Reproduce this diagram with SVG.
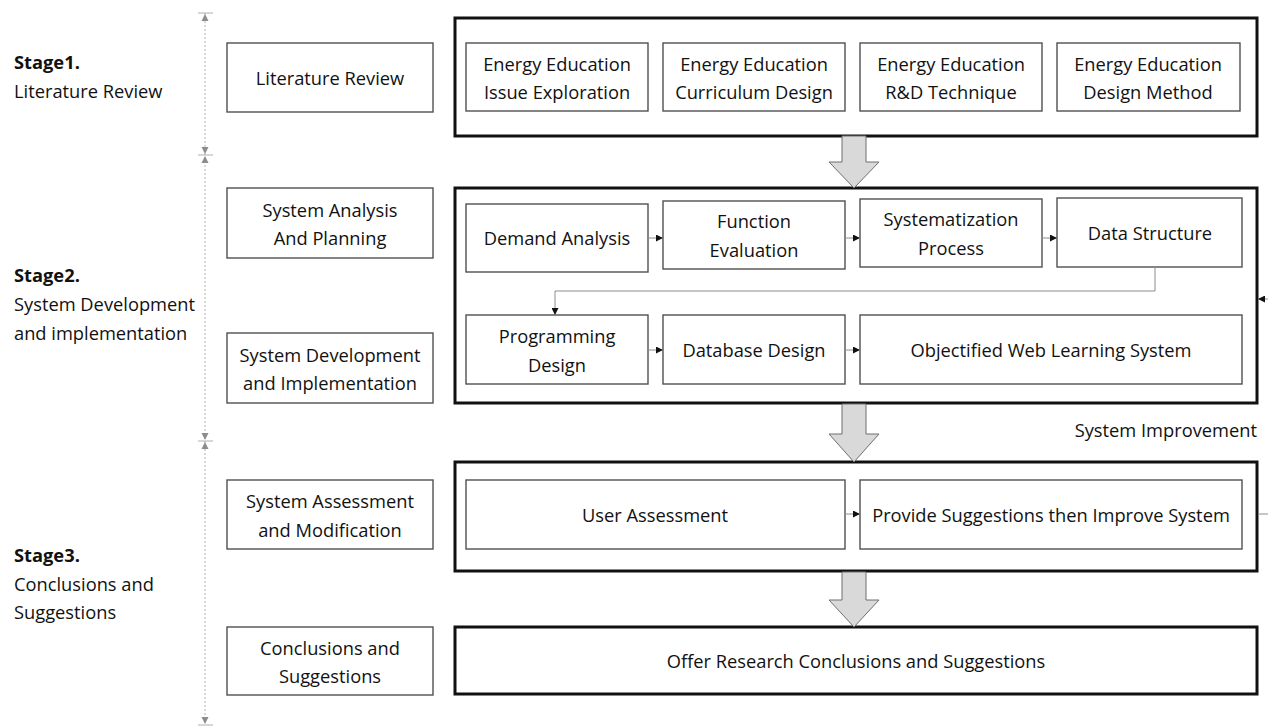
<svg xmlns="http://www.w3.org/2000/svg" width="1268" height="726" viewBox="0 0 1268 726">
<style>
text{font-family:"Open Sans","Noto Sans",sans-serif;font-size:18.3px;fill:#111}
.c{text-anchor:middle}
.b{font-weight:bold}
.box{fill:#fff;stroke:#505050;stroke-width:1.4}
.outer{fill:none;stroke:#111;stroke-width:3}
.ln{fill:none;stroke:#8c8c8c;stroke-width:1}
.blk{fill:#d9d9d9;stroke:#6f6f6f;stroke-width:1}
.dot{stroke:#b0b0b0;stroke-width:1;stroke-dasharray:2,2;fill:none}
.tk{stroke:#b0b0b0;stroke-width:1}
.tri{fill:#8c8c8c}
</style>
<defs>
<marker id="ah" markerWidth="7" markerHeight="7" refX="7" refY="3.5" orient="auto" markerUnits="userSpaceOnUse">
<path d="M0,0 L7,3.5 L0,7 Z" fill="#111"/>
</marker>
</defs>
<rect width="1268" height="726" fill="#fff"/>

<g id="timeline">
<line class="dot" x1="205" y1="13" x2="205" y2="724"/>
<line class="tk" x1="198" y1="13" x2="213" y2="13"/>
<path class="tri" d="M205,14 L201.5,21 L208.5,21 Z"/>
<line class="tk" x1="198" y1="155" x2="213" y2="155"/>
<path class="tri" d="M205,154 L201.5,147 L208.5,147 Z"/>
<path class="tri" d="M205,156 L201.5,163 L208.5,163 Z"/>
<line class="tk" x1="198" y1="441" x2="213" y2="441"/>
<path class="tri" d="M205,440 L201.5,433 L208.5,433 Z"/>
<path class="tri" d="M205,442 L201.5,449 L208.5,449 Z"/>
<line class="tk" x1="198" y1="725" x2="213" y2="725"/>
<path class="tri" d="M205,724 L201.5,717 L208.5,717 Z"/>
</g>

<g id="stage1-label"><text x="14" y="69" class="b">Stage1.</text><text x="14" y="98">Literature Review</text></g>
<g id="stage2-label"><text x="14" y="282" class="b">Stage2.</text><text x="14" y="311">System Development</text><text x="14" y="340">and implementation</text></g>
<g id="stage3-label"><text x="14" y="562" class="b">Stage3.</text><text x="14" y="591">Conclusions and</text><text x="14" y="619">Suggestions</text></g>

<g id="left-literature"><rect class="box" x="227" y="43" width="206" height="69"/><text class="c" x="330" y="85">Literature Review</text></g>
<g id="left-analysis"><rect class="box" x="227" y="188" width="206" height="70"/><text class="c" x="330" y="217">System Analysis</text><text class="c" x="330" y="245">And Planning</text></g>
<g id="left-development"><rect class="box" x="227" y="333" width="206" height="70"/><text class="c" x="330" y="362">System Development</text><text class="c" x="330" y="390">and Implementation</text></g>
<g id="left-assessment"><rect class="box" x="227" y="480" width="206" height="69"/><text class="c" x="330" y="508">System Assessment</text><text class="c" x="330" y="537">and Modification</text></g>
<g id="left-conclusions"><rect class="box" x="227" y="627" width="206" height="68"/><text class="c" x="330" y="655">Conclusions and</text><text class="c" x="330" y="683">Suggestions</text></g>

<g id="stage1-box"><rect class="outer" x="455" y="18" width="802" height="118"/></g>
<g id="issue"><rect class="box" x="466" y="43" width="182" height="68"/><text class="c" x="557" y="71">Energy Education</text><text class="c" x="557" y="99">Issue Exploration</text></g>
<g id="curriculum"><rect class="box" x="663" y="43" width="182" height="68"/><text class="c" x="754" y="71">Energy Education</text><text class="c" x="754" y="99">Curriculum Design</text></g>
<g id="rd"><rect class="box" x="860" y="43" width="182" height="68"/><text class="c" x="951" y="71">Energy Education</text><text class="c" x="951" y="99">R&amp;D Technique</text></g>
<g id="method"><rect class="box" x="1057" y="43" width="183" height="68"/><text class="c" x="1148" y="71">Energy Education</text><text class="c" x="1148" y="99">Design Method</text></g>

<g id="stage2-box"><rect class="outer" x="455" y="188" width="802" height="215"/></g>
<g id="demand"><rect class="box" x="466" y="204" width="182" height="68"/><text class="c" x="557" y="245">Demand Analysis</text></g>
<g id="function"><rect class="box" x="663" y="201" width="182" height="68"/><text class="c" x="754" y="228">Function</text><text class="c" x="754" y="257">Evaluation</text></g>
<g id="systematization"><rect class="box" x="860" y="199" width="182" height="68"/><text class="c" x="951" y="226">Systematization</text><text class="c" x="951" y="255">Process</text></g>
<g id="data"><rect class="box" x="1057" y="198" width="185" height="69"/><text class="c" x="1150" y="240">Data Structure</text></g>
<g id="programming"><rect class="box" x="466" y="315" width="182" height="69"/><text class="c" x="557" y="343">Programming</text><text class="c" x="557" y="372">Design</text></g>
<g id="database"><rect class="box" x="663" y="315" width="182" height="69"/><text class="c" x="754" y="357">Database Design</text></g>
<g id="objectified"><rect class="box" x="860" y="315" width="382" height="69"/><text class="c" x="1051" y="357">Objectified Web Learning System</text></g>

<g id="stage3-box"><rect class="outer" x="455" y="462" width="802" height="109"/></g>
<g id="user"><rect class="box" x="466" y="480" width="379" height="69"/><text class="c" x="655" y="522">User Assessment</text></g>
<g id="provide"><rect class="box" x="860" y="480" width="382" height="69"/><text class="c" x="1051" y="522">Provide Suggestions then Improve System</text></g>

<g id="stage4-box"><rect class="outer" x="455" y="627" width="802" height="67"/><text class="c" x="856" y="668">Offer Research Conclusions and Suggestions</text></g>

<g id="improvement-label"><text x="1257" y="437" style="text-anchor:end">System Improvement</text></g>

<g id="connectors">
<path class="blk" d="M842,136 L866,136 L866,162 L879,162 L854,188 L829,162 L842,162 Z"/>
<path class="blk" d="M842,404 L866,404 L866,434 L879,434 L854,462 L829,434 L842,434 Z"/>
<path class="blk" d="M842,572 L866,572 L866,600 L879,600 L854,627 L829,600 L842,600 Z"/>
<line class="ln" x1="648" y1="238" x2="663" y2="238" marker-end="url(#ah)"/>
<line class="ln" x1="845" y1="238" x2="860" y2="238" marker-end="url(#ah)"/>
<line class="ln" x1="1042" y1="238" x2="1057" y2="238" marker-end="url(#ah)"/>
<path class="ln" d="M1155,267 L1155,291 L555,291 L555,315" marker-end="url(#ah)"/>
<line class="ln" x1="648" y1="350" x2="663" y2="350" marker-end="url(#ah)"/>
<line class="ln" x1="845" y1="350" x2="860" y2="350" marker-end="url(#ah)"/>
<line class="ln" x1="845" y1="514" x2="860" y2="514" marker-end="url(#ah)"/>
<line class="ln" x1="1258" y1="514" x2="1268" y2="514"/>
<line class="ln" x1="1268" y1="299" x2="1258" y2="299" marker-end="url(#ah)"/>
</g>
</svg>
